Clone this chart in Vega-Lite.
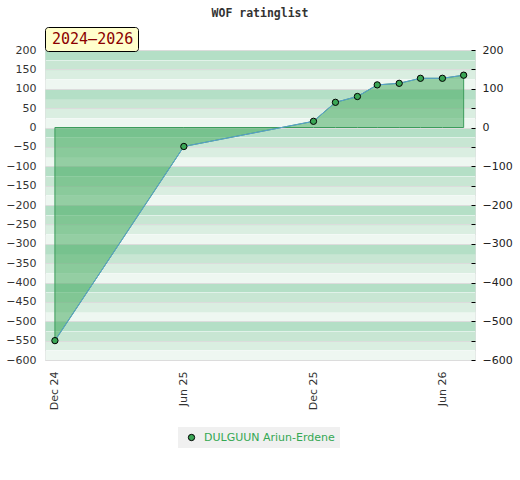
{
  "$schema": "https://vega.github.io/schema/vega-lite/v6.json",
  "width": 430,
  "height": 310,
  "autosize": {"type": "none"},
  "padding": {"left": 45, "top": 50, "right": 45, "bottom": 120},
  "title": {
    "text": "WOF ratinglist",
    "font": "DejaVu Sans Mono",
    "fontSize": 11.5,
    "fontWeight": "bold",
    "color": "#333",
    "anchor": "middle",
    "offset": 7
  },
  "data": {
    "values": [
      {"date": "2024-12-01", "rating": -550, "player": "DULGUUN Ariun-Erdene", "period": "2024–2026"},
      {"date": "2025-06-01", "rating": -49, "player": "DULGUUN Ariun-Erdene", "period": "2024–2026"},
      {"date": "2025-12-01", "rating": 16, "player": "DULGUUN Ariun-Erdene", "period": "2024–2026"},
      {"date": "2026-01-01", "rating": 65, "player": "DULGUUN Ariun-Erdene", "period": "2024–2026"},
      {"date": "2026-02-01", "rating": 80, "player": "DULGUUN Ariun-Erdene", "period": "2024–2026"},
      {"date": "2026-03-01", "rating": 110, "player": "DULGUUN Ariun-Erdene", "period": "2024–2026"},
      {"date": "2026-04-01", "rating": 114, "player": "DULGUUN Ariun-Erdene", "period": "2024–2026"},
      {"date": "2026-05-01", "rating": 127, "player": "DULGUUN Ariun-Erdene", "period": "2024–2026"},
      {"date": "2026-06-01", "rating": 127, "player": "DULGUUN Ariun-Erdene", "period": "2024–2026"},
      {"date": "2026-07-01", "rating": 135, "player": "DULGUUN Ariun-Erdene", "period": "2024–2026"}
    ]
  },
  "config": {
    "view": {"stroke": "#dddddd"},
    "axis": {"labelFont": "DejaVu Sans", "labelFontSize": 11, "labelColor": "#333"}
  },
  "resolve": {"scale": {"y": "shared"}, "axis": {"y": "independent"}},
  "layer": [
    {
      "mark": {"type": "area", "fill": "#3aa655", "fillOpacity": 0.5, "stroke": "#3c9c5c", "strokeWidth": 1},
      "encoding": {
        "x": {
          "field": "date",
          "type": "temporal",
          "scale": {
            "type": "utc",
            "domain": [
              {"year": 2024, "month": 11, "date": 17, "utc": true},
              {"year": 2026, "month": 7, "date": 17, "utc": true}
            ]
          },
          "axis": {
            "values": [
              {"year": 2024, "month": 12, "date": 1, "utc": true},
              {"year": 2025, "month": 6, "date": 1, "utc": true},
              {"year": 2025, "month": 12, "date": 1, "utc": true},
              {"year": 2026, "month": 6, "date": 1, "utc": true}
            ],
            "labelExpr": "utcFormat(datum.value, '%b %y')",
            "labelAngle": -90,
            "labelPadding": 11,
            "ticks": false,
            "domain": false,
            "grid": false,
            "title": null
          }
        },
        "y": {
          "field": "rating",
          "type": "quantitative",
          "scale": {"domain": [-600, 200], "nice": false, "zero": false},
          "axis": {
            "orient": "left",
            "values": [187.5, 162.5, 137.5, 112.5, 87.5, 62.5, 37.5, 12.5, -12.5, -37.5, -62.5, -87.5, -112.5, -137.5, -162.5, -187.5, -212.5, -237.5, -262.5, -287.5, -312.5, -337.5, -362.5, -387.5, -412.5, -437.5, -462.5, -487.5, -512.5, -537.5, -562.5, -587.5],
            "grid": true,
            "gridWidth": 9.7,
            "gridOpacity": 1,
            "gridColor": {
              "condition": [
                {"test": "((datum.value % 100) + 100) % 100 > 75", "value": "#b4dfc6"},
                {"test": "((datum.value % 100) + 100) % 100 > 50", "value": "#c8e6d3"},
                {"test": "((datum.value % 100) + 100) % 100 > 25", "value": "#daeee1"}
              ],
              "value": "#eef7f1"
            },
            "labels": false,
            "ticks": false,
            "domain": false,
            "title": null,
            "minExtent": 0,
            "maxExtent": 0
          }
        },
        "y2": {"datum": 0}
      }
    },
    {
      "mark": {"type": "line", "color": "#5a9fd4", "strokeWidth": 1},
      "encoding": {
        "x": {"field": "date", "type": "temporal"},
        "y": {
          "field": "rating",
          "type": "quantitative",
          "axis": {
            "orient": "left",
            "values": [-600, -550, -500, -450, -400, -350, -300, -250, -200, -150, -100, -50, 0, 50, 100, 150, 200],
            "grid": true,
            "gridColor": "#dcdcdc",
            "gridWidth": 1,
            "ticks": false,
            "domain": false,
            "labelPadding": 9,
            "title": null
          }
        }
      }
    },
    {
      "mark": {"type": "point", "filled": true, "stroke": "black", "strokeWidth": 1, "size": 40, "opacity": 1},
      "encoding": {
        "x": {"field": "date", "type": "temporal"},
        "y": {
          "field": "rating",
          "type": "quantitative",
          "axis": {
            "orient": "right",
            "values": [-600, -550, -500, -450, -400, -350, -300, -250, -200, -150, -100, -50, 0, 50, 100, 150, 200],
            "labelExpr": "datum.value % 100 == 0 ? datum.label : ''",
            "grid": false,
            "domain": false,
            "ticks": true,
            "tickSize": -4,
            "tickColor": "black",
            "tickWidth": 1,
            "labelPadding": 11,
            "labelColor": "#222",
            "title": null
          }
        },
        "color": {
          "field": "player",
          "type": "nominal",
          "scale": {"range": ["#3aa655"]},
          "legend": {
            "orient": "none",
            "legendX": 133,
            "legendY": 377,
            "title": null,
            "fillColor": "#f0f0f0",
            "padding": 5,
            "symbolType": "circle",
            "symbolSize": 40,
            "symbolStrokeColor": "black",
            "symbolStrokeWidth": 1,
            "symbolOffset": 3,
            "labelOffset": 7,
            "labelFont": "DejaVu Sans",
            "labelFontSize": 11,
            "labelColor": "#34a853"
          }
        },
        "opacity": {
          "field": "period",
          "type": "ordinal",
          "scale": {"range": [1, 1]},
          "legend": {
            "orient": "none",
            "legendX": 0,
            "legendY": -23,
            "title": null,
            "fillColor": "#ffffcc",
            "strokeColor": "black",
            "cornerRadius": 3,
            "padding": 4,
            "symbolSize": 0,
            "symbolOpacity": 0,
            "symbolStrokeWidth": 0,
            "labelOffset": -12,
            "labelFont": "DejaVu Sans Mono",
            "labelFontSize": 15,
            "labelColor": "#8b0000"
          }
        }
      }
    }
  ]
}
